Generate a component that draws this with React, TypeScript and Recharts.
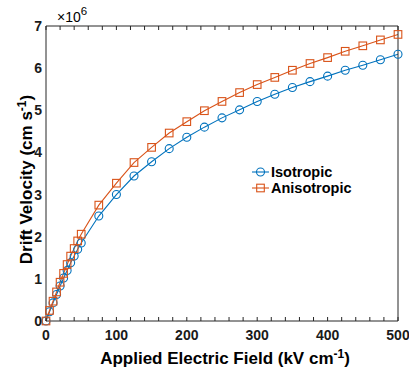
import React from 'react';
import { LineChart, Line, XAxis, YAxis, Legend } from 'recharts';

const fieldKV = [0, 5, 10, 15, 20, 25, 30, 35, 40, 45, 50, 75, 100, 125, 150, 175, 200, 225, 250, 275, 300, 325, 350, 375, 400, 425, 450, 475, 500];
const isotropic = [0, 0.22, 0.43, 0.63, 0.83, 1.02, 1.2, 1.38, 1.54, 1.7, 1.85, 2.49, 3.0, 3.44, 3.78, 4.09, 4.36, 4.6, 4.82, 5.01, 5.21, 5.38, 5.54, 5.68, 5.81, 5.95, 6.07, 6.2, 6.33];
const anisotropic = [0, 0.25, 0.47, 0.69, 0.92, 1.13, 1.34, 1.54, 1.72, 1.9, 2.06, 2.75, 3.27, 3.76, 4.12, 4.46, 4.73, 4.99, 5.21, 5.42, 5.61, 5.78, 5.95, 6.11, 6.25, 6.4, 6.53, 6.67, 6.8];

const xTicks = [0, 20, 40, 60, 80, 100, 120, 140, 160, 180, 200, 220, 240, 260, 280, 300, 320, 340, 360, 380, 400, 420, 440, 460, 480, 500];
const xLabels = [0, 100, 200, 300, 400, 500];
const yTicks = [0, 0.2, 0.4, 0.6, 0.8, 1, 1.2, 1.4, 1.6, 1.8, 2, 2.2, 2.4, 2.6, 2.8, 3, 3.2, 3.4, 3.6, 3.8, 4, 4.2, 4.4, 4.6, 4.8, 5, 5.2, 5.4, 5.6, 5.8, 6, 6.2, 6.4, 6.6, 6.8, 7];
const yLabels = [0, 1, 2, 3, 4, 5, 6, 7];

const data = fieldKV.map((x, i) => ({ x, iso: isotropic[i], aniso: anisotropic[i] }));

const BLUE = '#0072BD';
const ORANGE = '#D95319';
const AXIS = '#262626';
const FONT = '"Liberation Sans", Arial, sans-serif';

const blank = () => '';

const SquareDot = (props: any) => {
  const { cx, cy } = props;
  if (cx == null || cy == null) return null;
  return <rect x={cx - 3.8} y={cy - 3.8} width={7.6} height={7.6} fill="none" stroke={ORANGE} strokeWidth={1.1} />;
};

const LegendContent = () => (
  <div style={{ fontFamily: FONT, fontWeight: 'bold', fontSize: 14.5, color: '#000', lineHeight: '16px' }}>
    {[
      { name: 'Isotropic', color: BLUE, sq: false },
      { name: 'Anisotropic', color: ORANGE, sq: true },
    ].map((it) => (
      <div key={it.name} style={{ display: 'flex', alignItems: 'center', height: 16 }}>
        <svg width={19} height={16} style={{ marginRight: 1 }}>
          <line x1={1} x2={18} y1={8} y2={8} stroke={it.color} strokeWidth={1.1} />
          {it.sq ? (
            <rect x={5.7} y={4.2} width={7.6} height={7.6} fill="none" stroke={it.color} strokeWidth={1.1} />
          ) : (
            <circle cx={9.5} cy={8} r={4} fill="none" stroke={it.color} strokeWidth={1.1} />
          )}
        </svg>
        <span>{it.name}</span>
      </div>
    ))}
  </div>
);

const YTitle = (props: any) => {
  const vb = props.viewBox || {};
  const cy = vb.y + vb.height / 2 + 6;
  const cx = 32;
  return (
    <g>
      <text
        x={cx}
        y={cy}
        transform={`rotate(-90 ${cx} ${cy})`}
        textAnchor="middle"
        fontFamily={FONT}
        fontWeight="bold"
        fontSize={17}
        fill="#000"
      >
        Drift Velocity (cm s<tspan dy={-6} fontSize={12}>-1</tspan><tspan dy={6}>)</tspan>
      </text>
      <text x={57} y={22} fontFamily={FONT} fontSize={14} fill="#000">
        ×10<tspan dy={-7} fontSize={11.5}>6</tspan>
      </text>
    </g>
  );
};

const XTitle = (props: any) => {
  const vb = props.viewBox || {};
  const cx = vb.x + vb.width / 2 + 3;
  return (
    <text x={cx} y={364} textAnchor="middle" fontFamily={FONT} fontWeight="bold" fontSize={17} fill="#000">
      Applied Electric Field (kV cm<tspan dy={-6} fontSize={12}>-1</tspan><tspan dy={6}>)</tspan>
    </text>
  );
};

const tickStyle = { fontFamily: FONT, fontWeight: 'bold', fontSize: 14, fill: '#1a1a1a' } as any;

export default function App() {
  return (
    <div style={{ position: 'absolute', left: 0, top: 0, background: '#fff' }}>
      <LineChart width={409} height={371} data={data} margin={{ top: 26, right: 11, bottom: 0, left: 0 }}>
        <XAxis
          xAxisId="bt"
          dataKey="x"
          type="number"
          domain={[0, 500]}
          ticks={xTicks}
          interval={0}
          tickFormatter={blank}
          mirror
          axisLine={false}
          tickSize={4}
          height={1}
          stroke={AXIS}
        />
        <XAxis
          xAxisId="b"
          dataKey="x"
          type="number"
          domain={[0, 500]}
          ticks={xLabels}
          interval={0}
          tickLine={false}
          tickSize={0}
          tickMargin={9}
          height={50}
          stroke={AXIS}
          tick={tickStyle}
          label={{ content: <XTitle /> }}
        />
        <XAxis
          xAxisId="t"
          orientation="top"
          dataKey="x"
          type="number"
          domain={[0, 500]}
          ticks={xTicks}
          interval={0}
          tickFormatter={blank}
          mirror
          tickSize={4}
          height={1}
          stroke={AXIS}
        />
        <YAxis
          yAxisId="lt"
          type="number"
          domain={[0, 7]}
          ticks={yTicks}
          interval={0}
          tickFormatter={blank}
          mirror
          axisLine={false}
          tickSize={4}
          width={1}
          stroke={AXIS}
        />
        <YAxis
          yAxisId="l"
          type="number"
          domain={[0, 7]}
          ticks={yLabels}
          interval={0}
          tickLine={false}
          tickSize={0}
          tickMargin={4}
          width={46}
          stroke={AXIS}
          tick={tickStyle}
          label={{ content: <YTitle /> }}
        />
        <YAxis
          yAxisId="r"
          orientation="right"
          type="number"
          domain={[0, 7]}
          ticks={yTicks}
          interval={0}
          tickFormatter={blank}
          mirror
          tickSize={4}
          width={1}
          stroke={AXIS}
        />
        <Legend
          layout="vertical"
          align="center"
          verticalAlign="middle"
          content={<LegendContent />}
          wrapperStyle={{ position: 'absolute', left: 251, top: 164, width: 'auto' }}
        />
        <Line
          xAxisId="b"
          yAxisId="l"
          dataKey="iso"
          name="Isotropic"
          stroke={BLUE}
          strokeWidth={1.1}
          dot={{ r: 4, fill: 'none', stroke: BLUE, strokeWidth: 1.1 }}
          isAnimationActive={false}
        />
        <Line
          xAxisId="b"
          yAxisId="l"
          dataKey="aniso"
          name="Anisotropic"
          stroke={ORANGE}
          strokeWidth={1.1}
          dot={<SquareDot />}
          isAnimationActive={false}
        />
      </LineChart>
    </div>
  );
}
